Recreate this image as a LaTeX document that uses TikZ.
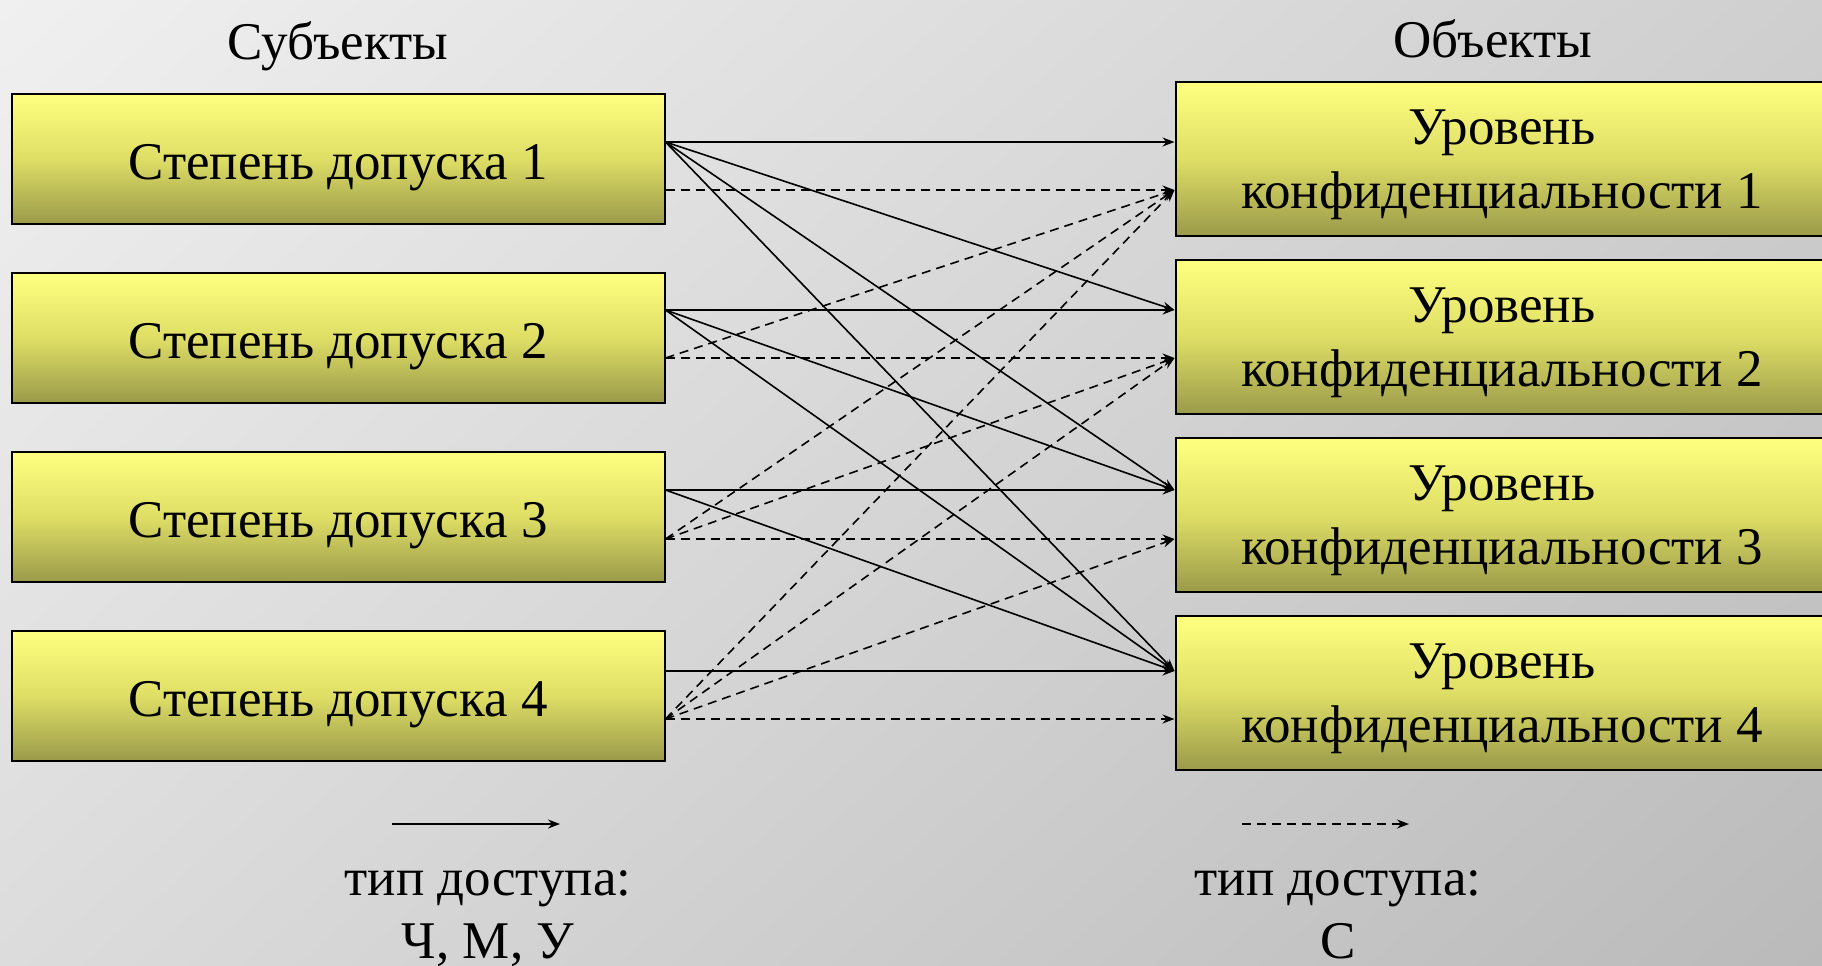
\documentclass[tikz,border=0pt]{standalone}
\usepackage{fontspec}
\setmainfont{Liberation Serif}
\usepackage{xcolor}
\usepackage{tikz}
\usetikzlibrary{positioning,arrows.meta,shadings}

\definecolor{boxtop}{HTML}{FFFF80}
\definecolor{boxmid}{HTML}{DEDE66}
\definecolor{boxbot}{HTML}{9A9A4A}
\definecolor{bgul}{HTML}{F0F0F0}
\definecolor{bgur}{HTML}{CFCFCF}
\definecolor{bgll}{HTML}{DCDCDC}
\definecolor{bglr}{HTML}{BABABA}

\tikzset{
    boxbase/.style={draw, line width=1pt, top color=boxtop, bottom color=boxbot, middle color=boxmid, minimum width=326.5pt},
    subjbox/.style={boxbase, minimum height=65pt, text height=20pt, text depth=0pt},
    objbox/.style={boxbase, minimum height=77pt, align=center, text depth=0pt},
    rwline/.style={-{Stealth[length=6pt,width=4.5pt,inset=2pt]}, line width=0.8pt},
    crline/.style={rwline, dash pattern=on 4.5pt off 3pt},
    lbl/.style={anchor=base, inner sep=0pt}
}

\begin{document}
\begin{tikzpicture}[x=0.5pt, y=-0.5pt, font=\fontsize{26.5}{31.75}\selectfont]
            \shade [upper left=bgul, upper right=bgur, lower left=bgll, lower right=bglr] (0,0) rectangle (1822,965);
            \useasboundingbox (0,0) rectangle (1822,965);

            \node (S1) [subjbox] at (338,159) {Степень допуска 1};
            \node (S2) [subjbox, below=23.5pt of S1] {Степень допуска 2};
            \node (S3) [subjbox, below=23.5pt of S2] {Степень допуска 3};
            \node (S4) [subjbox, below=23.5pt of S3] {Степень допуска 4};

            \node (O1) [objbox, right=254.5pt of S1] {Уровень\\конфиденциальности 1};
            \node (O2) [objbox, below=11pt of O1] {Уровень\\конфиденциальности 2};
            \node (O3) [objbox, below=11pt of O2] {Уровень\\конфиденциальности 3};
            \node (O4) [objbox, below=11pt of O3] {Уровень\\конфиденциальности 4};

            \node (subj) [above=11pt of S1, inner sep=0pt] {Субъекты};
            \node (obj) [above=11.5pt of O1, xshift=-4.5pt, inner sep=0pt] {Объекты};

            \coordinate (s1a) at (S1.east |- 0,142);
            \coordinate (s1b) at (S1.east |- 0,190);
            \coordinate (s2a) at (S2.east |- 0,310);
            \coordinate (s2b) at (S2.east |- 0,358);
            \coordinate (s3a) at (S3.east |- 0,490);
            \coordinate (s3b) at (S3.east |- 0,539);
            \coordinate (s4a) at (S4.east |- 0,671);
            \coordinate (s4b) at (S4.east |- 0,719);

            \coordinate (o1a) at (O1.west |- 0,142);
            \coordinate (o1b) at (O1.west |- 0,190);
            \coordinate (o2a) at (O2.west |- 0,310);
            \coordinate (o2b) at (O2.west |- 0,358);
            \coordinate (o3a) at (O3.west |- 0,490);
            \coordinate (o3b) at (O3.west |- 0,539);
            \coordinate (o4a) at (O4.west |- 0,671);
            \coordinate (o4b) at (O4.west |- 0,719);

            \draw [rwline] (s1a) to (o1a);
            \draw [rwline] (s1a) to (o2a);
            \draw [rwline] (s1a) to (o3a);
            \draw [rwline] (s1a) to (o4a);
            \draw [rwline] (s2a) to (o2a);
            \draw [rwline] (s2a) to (o3a);
            \draw [rwline] (s2a) to (o4a);
            \draw [rwline] (s3a) to (o3a);
            \draw [rwline] (s3a) to (o4a);
            \draw [rwline] (s4a) to (o4a);

            \draw [crline] (s1b) to (o1b);
            \draw [crline] (s2b) to (o1b);
            \draw [crline] (s2b) to (o2b);
            \draw [crline] (s3b) to (o1b);
            \draw [crline] (s3b) to (o2b);
            \draw [crline] (s3b) to (o3b);
            \draw [crline] (s4b) to (o1b);
            \draw [crline] (s4b) to (o2b);
            \draw [crline] (s4b) to (o3b);
            \draw [crline] (s4b) to (o4b);

            \coordinate (l1a) at (392,824);
            \coordinate (l1b) at (560,824);
            \coordinate (l2a) at (1242,824);
            \coordinate (l2b) at (1409,824);
            \draw [rwline] (l1a) to (l1b);
            \draw [crline] (l2a) to (l2b);

            \node (t1) [lbl] at (488,895) {тип доступа:};
            \node (k1) [lbl] at (488,958) {Ч, М, У};
            \node (t2) [lbl] at (1338,895) {тип доступа:};
            \node (k2) [lbl] at (1338,958) {С};
\end{tikzpicture}
\end{document}
